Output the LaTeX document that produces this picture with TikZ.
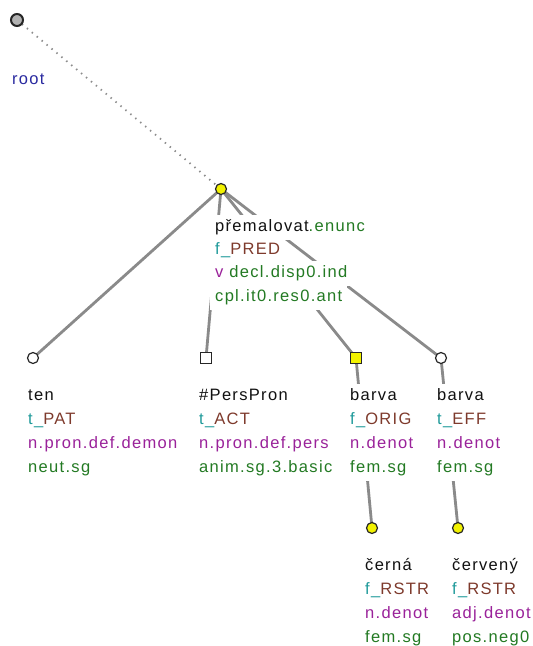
\documentclass[tikz,border=0pt]{standalone}
\usepackage{fontspec}
\setmainfont{Liberation Sans}
\newfontfamily\labfont[LetterSpace=8]{Liberation Sans}
\definecolor{cblack}{HTML}{111111}
\definecolor{cteal}{HTML}{1F9A9A}
\definecolor{cbrown}{HTML}{7E3A2C}
\definecolor{cpurple}{HTML}{9A229A}
\definecolor{cgreen}{HTML}{237A23}
\definecolor{cblue}{HTML}{2A2AA0}
\definecolor{cedge}{HTML}{8A8A8A}
\definecolor{cyel}{HTML}{F2F200}
\tikzset{
  lab/.style={anchor=base west, fill=white, inner xsep=5pt, inner ysep=3.5pt, text height=13pt, text depth=5pt, font=\labfont\fontsize{16.5}{20}\selectfont},
  cnode/.style={circle, draw=black!85, line width=1.2pt, minimum size=11pt, inner sep=0pt},
  snode/.style={rectangle, draw=black!85, line width=1.2pt, minimum size=11pt, inner sep=0pt},
  edge/.style={draw=cedge, line width=2.8pt},
  rootedge/.style={draw=black!45, line width=1.8pt, dash pattern=on 1.4pt off 5pt}
}
\begin{document}
\begin{tikzpicture}[x=1pt,y=-1pt]
\useasboundingbox (0,0) rectangle (533,646);
% node positions
\coordinate (root) at (17,20);
\coordinate (pred) at (221,189);
\coordinate (ten) at (33,358);
\coordinate (pp) at (206,358);
\coordinate (b1) at (356,358);
\coordinate (b2) at (441,358);
\coordinate (c1) at (372,528);
\coordinate (c2) at (458,528);
% edges
\draw[rootedge] (root) -- (pred);
\draw[edge] (pred) -- (ten);
\draw[edge] (pred) -- (pp);
\draw[edge] (pred) -- (b1);
\draw[edge] (pred) -- (b2);
\draw[edge] (b1) -- (c1);
\draw[edge] (b2) -- (c2);
% labels
\node[lab] (rootl) at (7,84) {\textcolor{cblue}{root}};
\node[lab] (p1) at (210,231.5) {\textcolor{cblack}{přemalovat}\textcolor{cgreen}{.enunc}};
\node[lab] (p2) at (210,254.5) {\textcolor{cteal}{f\_}\textcolor{cbrown}{PRED}};
\node[lab] (p3) at (210,277.5) {\textcolor{cpurple}{v} \textcolor{cgreen}{decl.disp0.ind}};
\node[lab] (p4) at (210,301.5) {\textcolor{cgreen}{cpl.it0.res0.ant}};
\node[lab] (t1) at (23,400) {\textcolor{cblack}{ten}};
\node[lab] (t2) at (23,424) {\textcolor{cteal}{t\_}\textcolor{cbrown}{PAT}};
\node[lab] (t3) at (23,448) {\textcolor{cpurple}{n.pron.def.demon}};
\node[lab] (t4) at (23,472) {\textcolor{cgreen}{neut.sg}};
\node[lab] (q1) at (194,400) {\textcolor{cblack}{\#PersPron}};
\node[lab] (q2) at (194,424) {\textcolor{cteal}{t\_}\textcolor{cbrown}{ACT}};
\node[lab] (q3) at (194,448) {\textcolor{cpurple}{n.pron.def.pers}};
\node[lab] (q4) at (194,472) {\textcolor{cgreen}{anim.sg.3.basic}};
\node[lab] (r1) at (345,400) {\textcolor{cblack}{barva}};
\node[lab] (r2) at (345,424) {\textcolor{cteal}{f\_}\textcolor{cbrown}{ORIG}};
\node[lab] (r3) at (345,448) {\textcolor{cpurple}{n.denot}};
\node[lab] (r4) at (345,472) {\textcolor{cgreen}{fem.sg}};
\node[lab] (s1) at (432,400) {\textcolor{cblack}{barva}};
\node[lab] (s2) at (432,424) {\textcolor{cteal}{t\_}\textcolor{cbrown}{EFF}};
\node[lab] (s3) at (432,448) {\textcolor{cpurple}{n.denot}};
\node[lab] (s4) at (432,472) {\textcolor{cgreen}{fem.sg}};
\node[lab] (u1) at (360,570) {\textcolor{cblack}{černá}};
\node[lab] (u2) at (360,594) {\textcolor{cteal}{f\_}\textcolor{cbrown}{RSTR}};
\node[lab] (u3) at (360,618) {\textcolor{cpurple}{n.denot}};
\node[lab] (u4) at (360,642) {\textcolor{cgreen}{fem.sg}};
\node[lab] (v1) at (447,570) {\textcolor{cblack}{červený}};
\node[lab] (v2) at (447,594) {\textcolor{cteal}{f\_}\textcolor{cbrown}{RSTR}};
\node[lab] (v3) at (447,618) {\textcolor{cpurple}{adj.denot}};
\node[lab] (v4) at (447,642) {\textcolor{cgreen}{pos.neg0}};
% nodes
\node[cnode, fill=black!30, line width=2pt, minimum size=12pt] (nroot) at (root) {};
\node[cnode, fill=cyel] (npred) at (pred) {};
\node[cnode, fill=white] (nten) at (ten) {};
\node[snode, fill=white] (npp) at (pp) {};
\node[snode, fill=cyel] (nb1) at (b1) {};
\node[cnode, fill=white] (nb2) at (b2) {};
\node[cnode, fill=cyel] (nc1) at (c1) {};
\node[cnode, fill=cyel] (nc2) at (c2) {};
\end{tikzpicture}
\end{document}
